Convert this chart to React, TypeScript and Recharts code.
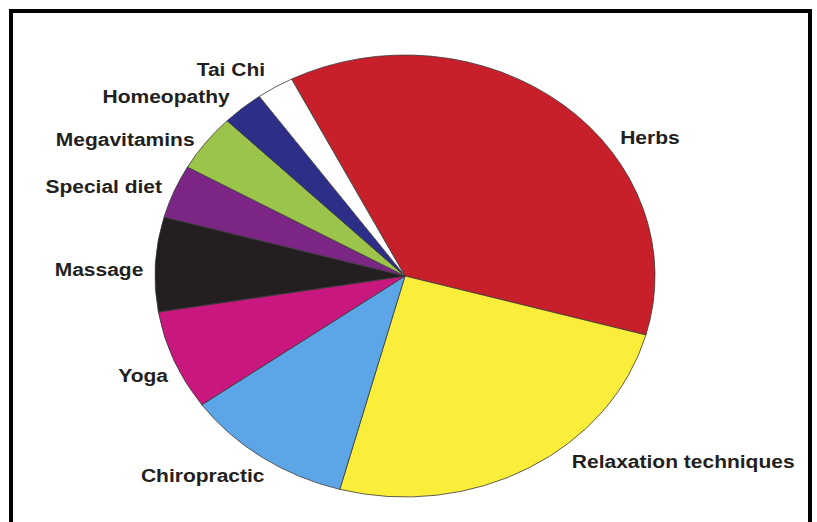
import React from 'react';
import { PieChart, Pie, Cell } from 'recharts';

// share of users (%) by therapy
const therapies = [
  'Herbs',
  'Relaxation techniques',
  'Chiropractic',
  'Yoga',
  'Massage',
  'Special diet',
  'Megavitamins',
  'Homeopathy',
  'Tai Chi',
];
const shares = [36.8, 24.9, 10.9, 7.3, 6.9, 3.9, 4.2, 2.7, 2.4];
const sliceColors = [
  '#c8202a',
  '#faee3a',
  '#5ca6e8',
  '#c8177e',
  '#231f20',
  '#7b2584',
  '#9cc34a',
  '#2c2e88',
  '#ffffff',
];

const data = therapies.map((name, i) => ({ name, value: shares[i] }));

// the source picture is squashed vertically
const ASPECT = 0.884;
const RAD = Math.PI / 180;

// hand placement of the labels, relative to the slice mid-angle anchor
const labelNudge: Record<string, [number, number]> = {
  Herbs: [43, 34],
  'Relaxation techniques': [29, -5],
  Chiropractic: [16, 19],
  Yoga: [8, 16],
  Massage: [2, 7],
  'Special diet': [2, -3],
  Megavitamins: [3, -2],
  Homeopathy: [1, -10],
  'Tai Chi': [4, -16],
};

const EllipseSector = (props: any) => {
  const { cx, cy, outerRadius, startAngle, endAngle, fill, stroke, strokeWidth } = props;
  const rx = outerRadius;
  const ry = outerRadius * ASPECT;
  const pt = (a: number) => [cx + rx * Math.cos(a * RAD), cy - ry * Math.sin(a * RAD)];
  const [sx, sy] = pt(startAngle);
  const [ex, ey] = pt(endAngle);
  const large = Math.abs(endAngle - startAngle) > 180 ? 1 : 0;
  const sweep = startAngle > endAngle ? 1 : 0;
  const d = `M${cx},${cy} L${sx},${sy} A${rx},${ry} 0 ${large} ${sweep} ${ex},${ey} Z`;
  return <path d={d} fill={fill} stroke={stroke} strokeWidth={strokeWidth} strokeLinejoin="round" />;
};

const renderLabel = (props: any) => {
  const { cx, cy, midAngle, outerRadius, name } = props;
  const c = Math.cos(midAngle * RAD);
  const s = Math.sin(midAngle * RAD);
  const right = c > 0;
  const [nx, ny] = labelNudge[name] || [0, 0];
  const x = cx + outerRadius * c + (right ? 14 : -14) + nx;
  const y = cy - outerRadius * ASPECT * s + 5 + ny;
  return (
    <text
      transform={`translate(${x},${y}) scale(1,0.88)`}
      x={0}
      y={0}
      textAnchor={right ? 'start' : 'end'}
      fontFamily="'Liberation Sans', Arial, sans-serif"
      fontWeight="bold"
      fontSize={21}
      fill="#231f20"
    >
      {name}
    </text>
  );
};

export default function App() {
  return (
    <div style={{ position: 'absolute', left: 0, top: 0, width: 817, height: 522, background: '#fff' }}>
      <div
        style={{
          position: 'absolute',
          left: 9,
          top: 9,
          width: 803,
          height: 513,
          boxSizing: 'border-box',
          borderTop: '4px solid #000',
          borderLeft: '4px solid #000',
          borderRight: '4px solid #000',
        }}
      />
      <div style={{ position: 'absolute', left: 0, top: 0 }}>
        <PieChart width={817} height={522}>
          <Pie
            data={data}
            dataKey="value"
            nameKey="name"
            cx={400}
            cy={271}
            outerRadius={250}
            startAngle={117}
            endAngle={-243}
            stroke="#3a3a3a"
            strokeWidth={0.8}
            shape={EllipseSector}
            activeShape={EllipseSector}
            inactiveShape={EllipseSector}
            label={renderLabel}
            labelLine={false}
            isAnimationActive={false}
          >
            {data.map((d, i) => (
              <Cell key={d.name} fill={sliceColors[i]} />
            ))}
          </Pie>
        </PieChart>
      </div>
    </div>
  );
}
